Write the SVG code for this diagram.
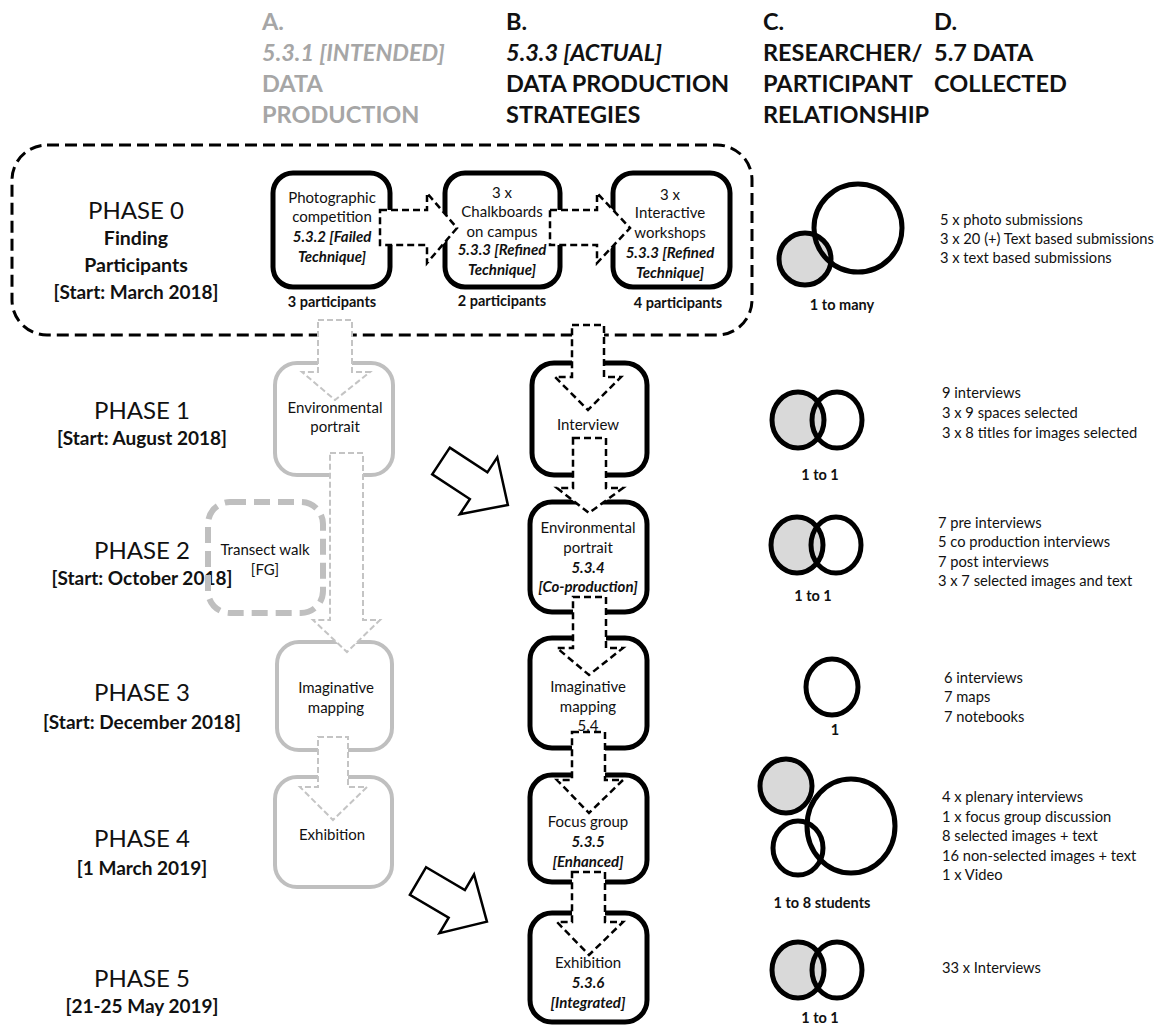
<svg xmlns="http://www.w3.org/2000/svg" width="1164" height="1026" viewBox="0 0 1164 1026">
  <style>
    text { font-family: Lato, "Open Sans", sans-serif; fill: #111; }
    .hd { font-size: 23.5px; font-weight: bold; }
    .hdA { fill: #a6a6a6; }
    .it { font-style: italic; }
    .ph { font-size: 24px; text-anchor: middle; }
    .dt { font-size: 19px; font-weight: bold; text-anchor: middle; }
    .bx { font-size: 15px; text-anchor: middle; }
    .bi { font-size: 15px; font-weight: bold; font-style: italic; text-anchor: middle; }
    .lb { font-size: 14.5px; font-weight: bold; text-anchor: middle; }
    .dc { font-size: 14.7px; }
    .box { fill: #fff; stroke: #000; stroke-width: 5; }
    .gbox { fill: #fff; stroke: #bfbfbf; stroke-width: 4; }
    .gdash { fill: none; stroke: #bfbfbf; stroke-width: 6; stroke-dasharray: 16 8; }
    .frame { fill: none; stroke: #000; stroke-width: 3; stroke-dasharray: 12 6; }
    .darr { fill: #fff; stroke: #000; stroke-width: 2.5; stroke-dasharray: 7 4; stroke-linejoin: miter; }
    .garr { fill: #fff; stroke: #c4c4c4; stroke-width: 2; stroke-dasharray: 6 3; }
    .barr { fill: #fff; stroke: #000; stroke-width: 2.5; stroke-linejoin: miter; }
    .ring { fill: none; stroke: #000; stroke-width: 5; }
    .ringg { fill: #d9d9d9; stroke: #000; stroke-width: 5; }
  </style>
  <defs>
    <polygon id="bigArrow" points="0,-16 45,-16 45,-34 80,0 45,34 45,16 0,16"/>
  </defs>

  <!-- column headers -->
  <g id="headers">
    <text class="hd hdA" x="262" y="30">A.</text>
    <text class="hd hdA it" x="262" y="61">5.3.1 [INTENDED]</text>
    <text class="hd hdA" x="262" y="92">DATA</text>
    <text class="hd hdA" x="262" y="123">PRODUCTION</text>

    <text class="hd" x="506" y="30">B.</text>
    <text class="hd it" x="506" y="61">5.3.3 [ACTUAL]</text>
    <text class="hd" x="506" y="92">DATA PRODUCTION</text>
    <text class="hd" x="506" y="123">STRATEGIES</text>

    <text class="hd" x="763" y="30">C.</text>
    <text class="hd" x="763" y="61">RESEARCHER/</text>
    <text class="hd" x="763" y="92">PARTICIPANT</text>
    <text class="hd" x="763" y="123">RELATIONSHIP</text>

    <text class="hd" x="934" y="30">D.</text>
    <text class="hd" x="934" y="61">5.7 DATA</text>
    <text class="hd" x="934" y="92">COLLECTED</text>
  </g>

  <!-- phase labels -->
  <g id="phase-labels">
    <text class="ph" x="136" y="219">PHASE 0</text>
    <text class="ph" x="136" y="245" style="font-size:19.5px;font-weight:bold">Finding</text>
    <text class="ph" x="136" y="272" style="font-size:19.5px;font-weight:bold">Participants</text>
    <text class="dt" x="136" y="299">[Start: March 2018]</text>

    <text class="ph" x="142" y="419">PHASE 1</text>
    <text class="dt" x="142" y="445">[Start: August 2018]</text>
    <text class="ph" x="142" y="559">PHASE 2</text>
    <text class="dt" x="142" y="585">[Start: October 2018]</text>
    <text class="ph" x="142" y="701">PHASE 3</text>
    <text class="dt" x="142" y="729">[Start: December 2018]</text>
    <text class="ph" x="142" y="847">PHASE 4</text>
    <text class="dt" x="142" y="875">[1 March 2019]</text>
    <text class="ph" x="142" y="987">PHASE 5</text>
    <text class="dt" x="142" y="1013">[21-25 May 2019]</text>
  </g>

  <!-- phase 0 grouping frame -->
  <g id="phase0-frame">
    <rect class="frame" x="12" y="145" width="740" height="190" rx="35"/>
  </g>

  <!-- phase 0 recruitment nodes -->
  <g id="n-photo">
    <rect class="box" x="273" y="173" width="117" height="114" rx="20"/>
    <text class="bx" x="332" y="203">Photographic</text>
    <text class="bx" x="332" y="222">competition</text>
    <text class="bi" x="332" y="242">5.3.2 [Failed</text>
    <text class="bi" x="332" y="262">Technique]</text>
    <text class="lb" x="332" y="307">3 participants</text>
  </g>
  <g id="n-chalk">
    <rect class="box" x="445" y="173" width="115" height="114" rx="20"/>
    <text class="bx" x="502" y="198">3 x</text>
    <text class="bx" x="502" y="217">Chalkboards</text>
    <text class="bx" x="502" y="237">on campus</text>
    <text class="bi" x="502" y="255">5.3.3 [Refined</text>
    <text class="bi" x="502" y="275">Technique]</text>
    <text class="lb" x="502" y="306">2 participants</text>
  </g>
  <g id="n-workshop">
    <rect class="box" x="613" y="173" width="117" height="114" rx="20"/>
    <text class="bx" x="670" y="200">3 x</text>
    <text class="bx" x="670" y="218">Interactive</text>
    <text class="bx" x="670" y="238">workshops</text>
    <text class="bi" x="670" y="258">5.3.3 [Refined</text>
    <text class="bi" x="670" y="278">Technique]</text>
    <text class="lb" x="678" y="308">4 participants</text>
  </g>

  <!-- column A: intended strategy (grey) -->
  <g id="a-portrait">
    <rect class="gbox" x="275" y="363" width="118" height="112" rx="22"/>
    <text class="bx" x="335" y="413">Environmental</text>
    <text class="bx" x="335" y="432">portrait</text>
  </g>
  <g id="a-transect">
    <rect class="gdash" x="208" y="502" width="115" height="111" rx="22"/>
    <text class="bx" x="265" y="555">Transect walk</text>
    <text class="bx" x="265" y="575">[FG]</text>
  </g>
  <g id="a-mapping">
    <rect class="gbox" x="277" y="642" width="115" height="108" rx="22"/>
    <text class="bx" x="336" y="693">Imaginative</text>
    <text class="bx" x="336" y="713">mapping</text>
  </g>
  <g id="a-exhibition">
    <rect class="gbox" x="275" y="777" width="117" height="110" rx="22"/>
    <text class="bx" x="332" y="840">Exhibition</text>
  </g>

  <!-- column B: actual strategy -->
  <g id="b-interview">
    <rect class="box" x="532" y="363" width="115" height="112" rx="22"/>
    <text class="bx" x="588" y="430">Interview</text>
  </g>
  <g id="b-portrait">
    <rect class="box" x="530" y="502" width="117" height="110" rx="22"/>
    <text class="bx" x="588" y="533">Environmental</text>
    <text class="bx" x="588" y="553">portrait</text>
    <text class="bi" x="588" y="573">5.3.4</text>
    <text class="bi" x="588" y="592">[Co-production]</text>
  </g>
  <g id="b-mapping">
    <rect class="box" x="530" y="638" width="117" height="110" rx="22"/>
    <text class="bx" x="588" y="692">Imaginative</text>
    <text class="bx" x="588" y="712">mapping</text>
    <text class="bx" x="588" y="731">5.4</text>
  </g>
  <g id="b-focus">
    <rect class="box" x="530" y="775" width="117" height="107" rx="22"/>
    <text class="bx" x="588" y="827">Focus group</text>
    <text class="bi" x="588" y="847">5.3.5</text>
    <text class="bi" x="588" y="867">[Enhanced]</text>
  </g>
  <g id="b-exhibition">
    <rect class="box" x="530" y="913" width="117" height="109" rx="22"/>
    <text class="bx" x="588" y="968">Exhibition</text>
    <text class="bi" x="588" y="988">5.3.6</text>
    <text class="bi" x="588" y="1008">[Integrated]</text>
  </g>

  <!-- connectors -->
  <g id="connectors">
    <!-- phase 0 sequence -->
    <polygon class="darr" points="380,210 427,210 427,193 457,228 427,263 427,245 380,245"/>
    <polygon class="darr" points="550,210 597,210 597,193 630,228 597,263 597,245 550,245"/>

    <!-- column A flow -->
    <polygon class="garr" points="318,320 352,320 352,372 370,372 335,400 302,372 318,372"/>
    <polygon class="garr" points="330,453 363,453 363,620 380,620 347,652 313,620 330,620"/>
    <polygon class="garr" points="318,737 348,737 348,787 367,787 333,820 300,787 318,787"/>

    <!-- column B flow -->
    <polygon class="darr" points="572,325 604,325 604,377 621,377 588,410 555,377 572,377"/>
    <polygon class="darr" points="573,438 606,438 606,488 623,488 589,513 557,488 573,488"/>
    <polygon class="darr" points="573,597 606,597 606,648 623,648 589,675 557,648 573,648"/>
    <polygon class="darr" points="572,732 605,732 605,780 623,780 589,813 557,780 572,780"/>
    <polygon class="darr" points="572,872 605,872 605,922 623,922 589,955 557,922 572,922"/>

    <!-- shifts from intended to actual -->
    <use href="#bigArrow" class="barr" transform="translate(441 461) rotate(33.3)"/>
    <use href="#bigArrow" class="barr" transform="translate(418 881) rotate(30.5)"/>
  </g>

  <!-- column C: researcher / participant relationship -->
  <g id="c-phase0">
    <circle class="ringg" cx="805" cy="259" r="26"/>
    <circle class="ring" cx="858" cy="228" r="44"/>
    <text class="lb" x="842" y="310">1 to many</text>
  </g>
  <g id="c-phase1">
    <ellipse class="ringg" cx="798" cy="420" rx="26" ry="28"/>
    <ellipse class="ring" cx="837" cy="420" rx="25" ry="28"/>
    <text class="lb" x="820" y="480">1 to 1</text>
  </g>
  <g id="c-phase2">
    <ellipse class="ringg" cx="797" cy="545" rx="26" ry="28"/>
    <ellipse class="ring" cx="836" cy="545" rx="25" ry="28"/>
    <text class="lb" x="813" y="601">1 to 1</text>
  </g>
  <g id="c-phase3">
    <ellipse class="ring" cx="832" cy="687" rx="26" ry="28"/>
    <text class="lb" x="835" y="735">1</text>
  </g>
  <g id="c-phase4">
    <ellipse class="ringg" cx="786" cy="786" rx="26" ry="27"/>
    <ellipse class="ring" cx="851" cy="826" rx="44" ry="47"/>
    <ellipse class="ring" cx="798" cy="848" rx="25" ry="27"/>
    <text class="lb" x="822" y="908">1 to 8 students</text>
  </g>
  <g id="c-phase5">
    <ellipse class="ringg" cx="798" cy="970" rx="26" ry="28"/>
    <ellipse class="ring" cx="837" cy="970" rx="25" ry="28"/>
    <text class="lb" x="820" y="1023">1 to 1</text>
  </g>

  <!-- column D: data collected -->
  <g id="d-phase0">
    <text class="dc" x="940" y="225">5 x photo submissions</text>
    <text class="dc" x="940" y="244">3 x 20 (+) Text based submissions</text>
    <text class="dc" x="940" y="263">3 x text based submissions</text>
  </g>
  <g id="d-phase1">
    <text class="dc" x="942" y="398">9 interviews</text>
    <text class="dc" x="942" y="418">3 x 9 spaces selected</text>
    <text class="dc" x="942" y="438">3 x 8 titles for images selected</text>
  </g>
  <g id="d-phase2">
    <text class="dc" x="938" y="528">7 pre interviews</text>
    <text class="dc" x="938" y="547">5 co production interviews</text>
    <text class="dc" x="938" y="567">7 post interviews</text>
    <text class="dc" x="938" y="586">3 x 7 selected images and text</text>
  </g>
  <g id="d-phase3">
    <text class="dc" x="944" y="683">6 interviews</text>
    <text class="dc" x="944" y="702">7 maps</text>
    <text class="dc" x="944" y="722">7 notebooks</text>
  </g>
  <g id="d-phase4">
    <text class="dc" x="942" y="802">4 x plenary interviews</text>
    <text class="dc" x="942" y="822">1 x focus group discussion</text>
    <text class="dc" x="942" y="841">8 selected images + text</text>
    <text class="dc" x="942" y="861">16 non-selected images + text</text>
    <text class="dc" x="942" y="880">1 x Video</text>
  </g>
  <g id="d-phase5">
    <text class="dc" x="942" y="973">33 x Interviews</text>
  </g>
</svg>
